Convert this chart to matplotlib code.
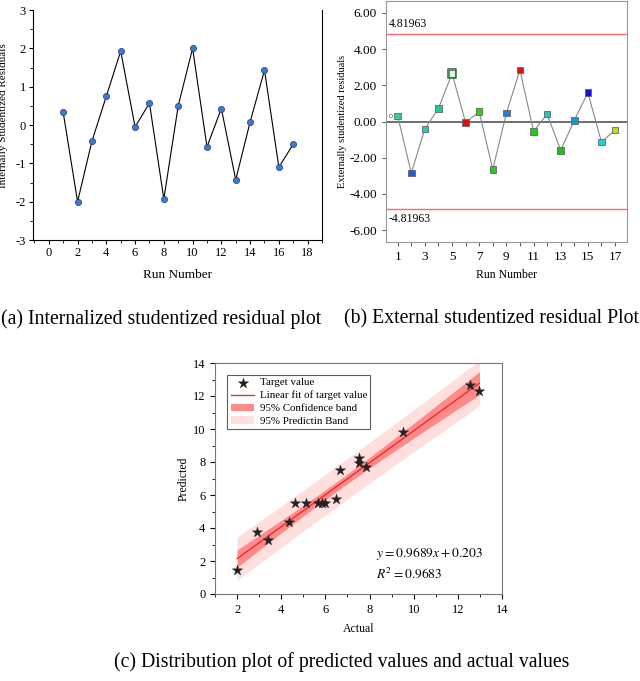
import numpy as np
import matplotlib.pyplot as plt
from matplotlib.ticker import MultipleLocator, FormatStrFormatter

plt.rcParams['font.family'] = ['Liberation Serif', 'DejaVu Serif']
plt.rcParams['mathtext.fontset'] = 'stix'
plt.rcParams['axes.unicode_minus'] = False

# (a) internally studentized residuals
run = np.arange(1, 18)
internal = [0.33, -2.0, -0.42, 0.75, 1.93, -0.05, 0.57, -1.93, 0.5, 2.0,
            -0.57, 0.43, -1.43, 0.08, 1.43, -1.1, -0.5]

# (b) externally studentized residuals
external = [0.31, -2.85, -0.41, 0.72, 2.65, -0.06, 0.54, -2.65, 0.46, 2.85,
            -0.54, 0.41, -1.59, 0.06, 1.59, -1.13, -0.48]
ext_colors = ['#33cc99', '#1a5fe0', '#22ccbb', '#22cc88', '#ddf5dd', '#e01010',
              '#33cc11', '#22cc22', '#1f7ae0', '#dd1111', '#22cc11', '#22ccaa',
              '#22bb22', '#1199cc', '#1111dd', '#22ccdd', '#bbdd11']
limit = 4.81963

# (c) predicted vs actual
actual = [2.0, 2.92, 3.41, 4.33, 4.61, 5.11, 5.65, 5.83, 6.0, 6.47, 6.64,
          7.54, 7.54, 7.84, 9.52, 12.56, 12.98]
predicted = [1.45, 3.77, 3.27, 4.38, 5.49, 5.49, 5.49, 5.49, 5.49, 5.73, 7.50,
             8.25, 7.91, 7.71, 9.82, 12.65, 12.29]
slope, intercept = 0.9689, 0.203


def main():
    W, H = 640, 681
    fig = plt.figure(figsize=(W / 100, H / 100), dpi=100)

    def box(l, t, r, b):
        return [l / W, 1 - b / H, (r - l) / W, (b - t) / H]

    # ---- panel (a)
    ax = fig.add_axes(box(33, 10, 322, 240))
    ax.plot(run, internal, color='black', lw=0.8, zorder=2)
    ax.scatter(run, internal, s=20, color='#3f78cc', edgecolor='#1d3f7a',
               linewidth=0.5, zorder=3)
    ax.set_xlim(-1.1, 19)
    ax.set_ylim(-3, 3)
    ax.xaxis.set_major_locator(MultipleLocator(2))
    ax.xaxis.set_minor_locator(MultipleLocator(1))
    ax.yaxis.set_major_locator(MultipleLocator(1))
    ax.yaxis.set_minor_locator(MultipleLocator(0.5))
    ax.tick_params(labelsize=9, length=3, width=0.8, pad=2)
    ax.tick_params(which='minor', length=2, width=0.6)
    ax.spines['top'].set_visible(False)
    ax.set_xlabel('Run Number', fontsize=9.5, labelpad=7)
    ax.set_ylabel('Internally Studentized Residuals', fontsize=8)
    ax.yaxis.set_label_coords(-0.085, 0.54)

    # ---- panel (b)
    bx = fig.add_axes(box(386, 1, 627, 242))
    bx.plot(run, external, color='#888888', lw=0.8, zorder=2)
    bx.scatter(run, external, s=22, marker='s', c=ext_colors,
               edgecolor='#666666', linewidth=0.6, zorder=3)
    bx.scatter([run[4]], [external[4]], s=36, marker='s', facecolor='none',
               edgecolor='#2a6a3a', linewidth=1.1, zorder=4)
    bx.scatter([0.5], [0.3], s=6, facecolor='none', edgecolor='#888888',
               linewidth=0.6, zorder=3)
    bx.axhline(0, color='#555555', lw=1.2, zorder=1)
    bx.axhline(limit, color='#ff6666', lw=1.0, zorder=1)
    bx.axhline(-limit, color='#ff6666', lw=1.0, zorder=1)
    bx.text(0.35, limit + 0.25, f'{limit:.5f}', fontsize=8.5, va='bottom')
    bx.text(0.35, -limit - 0.25, f'{-limit:.5f}', fontsize=8.5, va='top')
    bx.set_xlim(0.14, 17.88)
    bx.set_ylim(-6.66, 6.66)
    bx.set_xticks(np.arange(1, 18, 2))
    bx.xaxis.set_minor_locator(MultipleLocator(1))
    bx.yaxis.set_major_locator(MultipleLocator(2))
    bx.yaxis.set_major_formatter(FormatStrFormatter('%.2f'))
    bx.tick_params(labelsize=9.5, length=3, width=0.7, color='#555555')
    bx.tick_params(which='minor', length=3, width=0.7, color='#555555')
    for s in bx.spines.values():
        s.set_color('#999999')
    bx.set_xlabel('Run Number', fontsize=8.5, labelpad=4)
    bx.set_ylabel('Externally studentized residuals', fontsize=7.5, labelpad=2)

    # ---- panel (c)
    cx = fig.add_axes(box(215, 363, 502, 594))
    xa = np.array(actual)
    ya = np.array(predicted)
    n = len(xa)
    b1, b0 = np.polyfit(xa, ya, 1)
    resid = ya - (b1 * xa + b0)
    s_err = np.sqrt(np.sum(resid ** 2) / (n - 2))
    t_val = 2.131
    xs = np.linspace(xa.min(), xa.max(), 200)
    ys = slope * xs + intercept
    sxx = np.sum((xa - xa.mean()) ** 2)
    conf = t_val * s_err * np.sqrt(1 / n + (xs - xa.mean()) ** 2 / sxx)
    pred = t_val * s_err * np.sqrt(1 + 1 / n + (xs - xa.mean()) ** 2 / sxx)
    cx.fill_between(xs, ys - pred, ys + pred, color='#ffdede', lw=0,
                    label='95% Predictin Band', zorder=1)
    cx.fill_between(xs, ys - conf, ys + conf, color='#ff8a8a', lw=0,
                    label='95% Confidence band', zorder=2)
    cx.plot(xs, ys, color='#ee2222', lw=0.9, label='Linear fit of target value',
            zorder=3)
    cx.scatter(xa, ya, marker='*', s=60, color='#222222', edgecolor='#222222',
               linewidth=0.3, label='Target value', zorder=4)
    cx.set_xlim(1, 14)
    cx.set_ylim(0, 14)
    cx.xaxis.set_major_locator(MultipleLocator(2))
    cx.xaxis.set_minor_locator(MultipleLocator(1))
    cx.yaxis.set_major_locator(MultipleLocator(2))
    cx.yaxis.set_minor_locator(MultipleLocator(1))
    cx.tick_params(labelsize=9, length=3.5, width=0.8)
    cx.tick_params(which='minor', length=2, width=0.6)
    for s in cx.spines.values():
        s.set_color('#777777')
    cx.set_xlabel('Actual', fontsize=8.5, labelpad=5)
    cx.set_ylabel('Predicted', fontsize=8.5, labelpad=2)
    h, l = cx.get_legend_handles_labels()
    order = [3, 2, 1, 0]
    leg = cx.legend([h[i] for i in order], [l[i] for i in order], loc='upper left',
                    bbox_to_anchor=(0.043, 0.95), fontsize=7.8, frameon=True,
                    fancybox=False, edgecolor='#333333', borderpad=0.3,
                    labelspacing=0.3, handlelength=2.2, handletextpad=0.5,
                    borderaxespad=0)
    leg.get_frame().set_linewidth(0.8)
    cx.text(0.56, 0.177, r'$y = 0.9689x + 0.203$', transform=cx.transAxes,
            fontsize=9.7, va='center')
    cx.text(0.56, 0.086, r'$R^2 = 0.9683$', transform=cx.transAxes,
            fontsize=9.7, va='center')

    # ---- captions
    fig.text(161 / W, 1 - 319 / H, '(a) Internalized studentized residual plot',
             ha='center', va='center', fontsize=14.2)
    fig.text(491 / W, 1 - 319 / H, '(b) External studentized residual Plot',
             ha='center', va='center', fontsize=14.2)
    fig.text(342 / W, 1 - 662 / H,
             '(c) Distribution plot of predicted values and actual values',
             ha='center', va='center', fontsize=14.2)

    plt.savefig('out.png', dpi=100)


if __name__ == "__main__":
    main()
